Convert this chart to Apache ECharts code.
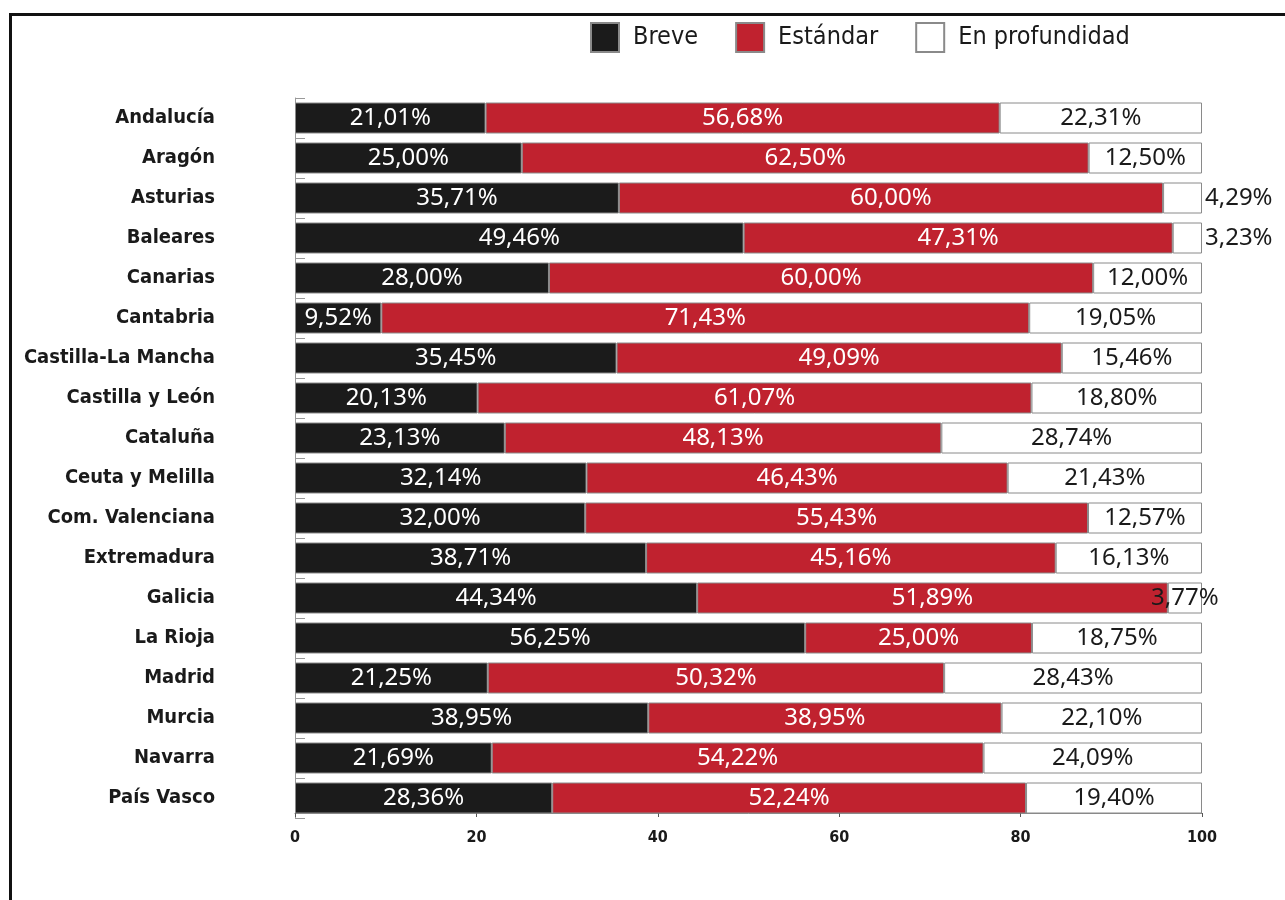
<!DOCTYPE html>
<html>
<head>
<meta charset="utf-8">
<script src="https://cdn.jsdelivr.net/npm/echarts@6/dist/echarts.min.js"></script>
<style>
  html, body { margin: 0; padding: 0; background: #fff; }
  #chart { width: 1285px; height: 900px; }
  #frame { position: absolute; left: 9px; top: 13px; width: 1300px; height: 900px;
           border-top: 3px solid #111; border-left: 3px solid #111; pointer-events: none; }
</style>
</head>
<body>
<div id="chart"></div>
<div id="frame"></div>
<script>
var narrow = "'Liberation Sans Narrow', 'DejaVu Sans Condensed', 'Arial Narrow', sans-serif";
var labelFont = "'Noto Sans', 'Open Sans', sans-serif";

var categories = ['Andalucía', 'Aragón', 'Asturias', 'Baleares', 'Canarias', 'Cantabria',
  'Castilla-La Mancha', 'Castilla y León', 'Cataluña', 'Ceuta y Melilla', 'Com. Valenciana',
  'Extremadura', 'Galicia', 'La Rioja', 'Madrid', 'Murcia', 'Navarra', 'País Vasco'];
var breve = [21.01, 25.00, 35.71, 49.46, 28.00, 9.52, 35.45, 20.13, 23.13, 32.14, 32.00,
  38.71, 44.34, 56.25, 21.25, 38.95, 21.69, 28.36];
var estandar = [56.68, 62.50, 60.00, 47.31, 60.00, 71.43, 49.09, 61.07, 48.13, 46.43, 55.43,
  45.16, 51.89, 25.00, 50.32, 38.95, 54.22, 52.24];
var profundidad = [22.31, 12.50, 4.29, 3.23, 12.00, 19.05, 15.46, 18.80, 28.74, 21.43, 12.57,
  16.13, 3.77, 18.75, 28.43, 22.10, 24.09, 19.40];
var xTicks = [0, 20, 40, 60, 80, 100];

function pct(p) {
  return p.value.toFixed(2).replace('.', ',') + '%';
}

// small end segments whose label sits outside the bar
var outside = ['Asturias', 'Baleares'];

var chart = echarts.init(document.getElementById('chart'));
var option = {
  animation: false,
  legend: {
    top: 17,
    left: 585,
    itemWidth: 28,
    itemHeight: 29,
    itemGap: 37,
    icon: 'rect',
    textStyle: { fontFamily: narrow, fontSize: 25, color: '#1a1a1a', padding: [0, 0, 0, 9] },
    data: ['Breve', 'Estándar', 'En profundidad']
  },
  grid: { left: 295, right: 83, top: 98, height: 720, outerBoundsMode: 'none', containLabel: false },
  xAxis: {
    type: 'value',
    min: 0,
    max: 100,
    interval: 20,
    offset: -5,
    axisLine: { show: true, lineStyle: { color: '#888', width: 1 } },
    axisTick: { show: true, length: 4, lineStyle: { color: '#555' } },
    splitLine: { show: false },
    axisLabel: {
      fontFamily: narrow, fontWeight: 'bold', fontSize: 16, color: '#1a1a1a', margin: 17,
      formatter: function (v) { return xTicks.indexOf(v) >= 0 ? String(v) : ''; }
    }
  },
  yAxis: {
    type: 'category',
    inverse: true,
    data: categories,
    axisLine: { show: true, lineStyle: { color: '#999' } },
    axisTick: { show: true, inside: true, length: 10, lineStyle: { color: '#999' } },
    axisLabel: { fontFamily: narrow, fontWeight: 'bold', fontSize: 20, color: '#1a1a1a', margin: 80 }
  },
  series: [
    {
      name: 'Breve', type: 'bar', stack: 't', barWidth: 31, data: breve,
      itemStyle: { color: '#1b1b1b', borderColor: '#8a8a8a', borderWidth: 1 },
      label: { show: true, position: 'inside', color: '#fff', fontFamily: labelFont, fontSize: 24, formatter: pct }
    },
    {
      name: 'Estándar', type: 'bar', stack: 't', data: estandar,
      itemStyle: { color: '#c0222f', borderColor: '#8a8a8a', borderWidth: 1 },
      label: { show: true, position: 'inside', color: '#fff', fontFamily: labelFont, fontSize: 24, formatter: pct }
    },
    {
      name: 'En profundidad', type: 'bar', stack: 't',
      data: profundidad.map(function (v, i) {
        if (outside.indexOf(categories[i]) >= 0) {
          return { value: v, label: { position: 'right', distance: 3 } };
        }
        return v;
      }),
      itemStyle: { color: '#fff', borderColor: '#8a8a8a', borderWidth: 1 },
      label: { show: true, position: 'inside', color: '#1a1a1a', fontFamily: labelFont, fontSize: 24, formatter: pct }
    }
  ]
};
chart.setOption(option);
</script>
</body>
</html>
